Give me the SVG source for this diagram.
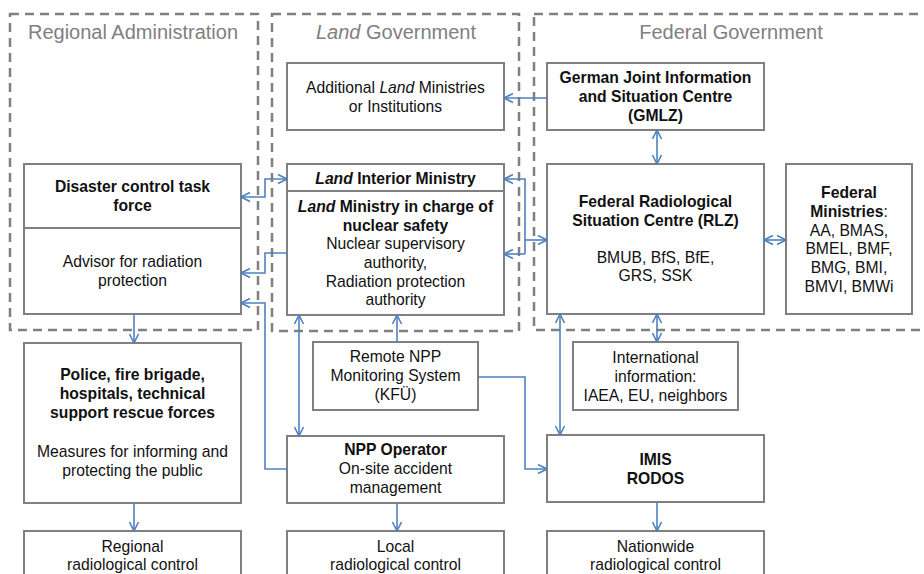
<svg xmlns="http://www.w3.org/2000/svg" width="924" height="574" viewBox="0 0 924 574">
<defs>
<style>
.c{fill:none;stroke:#808080;stroke-width:2.5;stroke-dasharray:9 6}
.ct{font-family:"Liberation Sans",Arial,sans-serif;font-size:20px;fill:#808080;text-anchor:middle}
.b{fill:#fff;stroke:#808080;stroke-width:2}
.d{stroke:#808080;stroke-width:2}
text.t{font-family:"Liberation Sans",Arial,sans-serif;font-size:15.7px;fill:#111;text-anchor:middle}
.bo{font-weight:bold}
.i{font-style:italic}
.n{font-weight:normal}
.k path{fill:none;stroke:#4f81bd;stroke-width:1.6}
</style>
<marker id="a" markerWidth="11" markerHeight="11" refX="10" refY="5.5" orient="auto-start-reverse" markerUnits="userSpaceOnUse" viewBox="0 0 11 11">
<path d="M1,1 L10,5.5 L1,10" fill="none" stroke="#4f81bd" stroke-width="1.6"/>
</marker>
</defs>
<rect width="924" height="574" fill="#fff"/>

<g id="regional-admin">
<rect class="c" x="10" y="14" width="248" height="316"/>
<text class="ct" x="133" y="39">Regional  Administration</text>
</g>
<g id="land-gov">
<rect class="c" x="272" y="14" width="247" height="317"/>
<text class="ct" x="396" y="39"><tspan font-style="italic">Land</tspan> Government</text>
</g>
<g id="federal-gov">
<rect class="c" x="534" y="14" width="410" height="316"/>
<text class="ct" x="731" y="39">Federal  Government</text>
</g>

<g id="additional">
<rect class="b" x="287" y="63" width="217" height="67"/>
<text class="t" x="395.5" y="93">Additional <tspan class="i">Land</tspan> Ministries</text>
<text class="t" x="395.5" y="112">or Institutions</text>
</g>

<g id="land-ministry">
<rect class="b" x="287" y="164" width="217" height="151"/>
<line class="d" x1="287" y1="191" x2="504" y2="191"/>
<text class="t bo" x="395.5" y="184"><tspan class="i">Land</tspan> Interior Ministry</text>
<text class="t bo" x="395.5" y="212"><tspan class="i">Land</tspan> Ministry in charge of</text>
<text class="t bo" x="395.5" y="231">nuclear safety</text>
<text class="t" x="395.5" y="249">Nuclear supervisory</text>
<text class="t" x="395.5" y="268">authority,</text>
<text class="t" x="395.5" y="287">Radiation protection</text>
<text class="t" x="395.5" y="305">authority</text>
</g>

<g id="disaster">
<rect class="b" x="24" y="164" width="217" height="150"/>
<line class="d" x1="24" y1="228" x2="241" y2="228"/>
<text class="t bo" x="132.5" y="192">Disaster control task</text>
<text class="t bo" x="132.5" y="211">force</text>
<text class="t" x="132.5" y="267">Advisor for radiation</text>
<text class="t" x="132.5" y="286">protection</text>
</g>

<g id="gmlz">
<rect class="b" x="547" y="63" width="217" height="67"/>
<text class="t bo" x="655.5" y="83">German Joint Information</text>
<text class="t bo" x="655.5" y="102">and Situation Centre</text>
<text class="t bo" x="655.5" y="121">(GMLZ)</text>
</g>

<g id="rlz">
<rect class="b" x="547" y="164" width="217" height="150"/>
<text class="t bo" x="655.5" y="207">Federal Radiological</text>
<text class="t bo" x="655.5" y="226">Situation Centre (RLZ)</text>
<text class="t" x="655.5" y="263">BMUB, BfS, BfE,</text>
<text class="t" x="655.5" y="281">GRS, SSK</text>
</g>

<g id="fed-ministries">
<rect class="b" x="786" y="164" width="126" height="150"/>
<text class="t bo" x="849" y="198">Federal</text>
<text class="t bo" x="849" y="217">Ministries<tspan class="n">:</tspan></text>
<text class="t" x="849" y="236">AA, BMAS,</text>
<text class="t" x="849" y="254">BMEL, BMF,</text>
<text class="t" x="849" y="273">BMG, BMI,</text>
<text class="t" x="849" y="292">BMVI, BMWi</text>
</g>

<g id="police">
<rect class="b" x="24" y="343" width="217" height="160"/>
<text class="t bo" x="132.5" y="380">Police, fire brigade,</text>
<text class="t bo" x="132.5" y="399">hospitals, technical</text>
<text class="t bo" x="132.5" y="418">support rescue forces</text>
<text class="t" x="132.5" y="457">Measures for informing and</text>
<text class="t" x="132.5" y="476">protecting the public</text>
</g>

<g id="regional-control">
<rect class="b" x="24" y="531" width="217" height="60"/>
<text class="t" x="132.5" y="552">Regional</text>
<text class="t" x="132.5" y="570">radiological control</text>
</g>

<g id="remote-npp">
<rect class="b" x="313" y="342" width="165" height="68"/>
<text class="t" x="395.5" y="362">Remote NPP</text>
<text class="t" x="395.5" y="381">Monitoring System</text>
<text class="t" x="395.5" y="400">(KFÜ)</text>
</g>

<g id="npp-operator">
<rect class="b" x="287" y="436" width="217" height="67"/>
<text class="t bo" x="395.5" y="455">NPP Operator</text>
<text class="t" x="395.5" y="474">On-site accident</text>
<text class="t" x="395.5" y="493">management</text>
</g>

<g id="local-control">
<rect class="b" x="287" y="531" width="217" height="60"/>
<text class="t" x="395.5" y="552">Local</text>
<text class="t" x="395.5" y="570">radiological control</text>
</g>

<g id="international">
<rect class="b" x="573" y="342" width="165" height="68"/>
<text class="t" x="655.5" y="363">International</text>
<text class="t" x="655.5" y="382">information:</text>
<text class="t" x="655.5" y="401">IAEA, EU, neighbors</text>
</g>

<g id="imis">
<rect class="b" x="547" y="435" width="217" height="67"/>
<text class="t bo" x="655.5" y="465">IMIS</text>
<text class="t bo" x="655.5" y="484">RODOS</text>
</g>

<g id="nationwide">
<rect class="b" x="547" y="531" width="217" height="60"/>
<text class="t" x="655.5" y="552">Nationwide</text>
<text class="t" x="655.5" y="570">radiological control</text>
</g>

<g id="connectors" class="k">
<path d="M547,98 H504" marker-end="url(#a)"/>
<path d="M657,130 V164" marker-start="url(#a)" marker-end="url(#a)"/>
<path d="M764,240 H786" marker-start="url(#a)" marker-end="url(#a)"/>
<path d="M657,314 V342" marker-start="url(#a)" marker-end="url(#a)"/>
<path d="M560,314 V435" marker-start="url(#a)" marker-end="url(#a)"/>
<path d="M478,377 H525 V469 H547" marker-end="url(#a)"/>
<path d="M397,342 V315" marker-end="url(#a)"/>
<path d="M299,315 V436" marker-start="url(#a)" marker-end="url(#a)"/>
<path d="M287,469 H265 V303 H241" marker-end="url(#a)"/>
<path d="M287,253 H265 V273 H241" marker-end="url(#a)"/>
<path d="M241,197 H265 V179 H287" marker-start="url(#a)" marker-end="url(#a)"/>
<path d="M525,254 V179 H504" marker-end="url(#a)"/>
<path d="M525,254 H504" marker-end="url(#a)"/>
<path d="M525,240 H547" marker-end="url(#a)"/>
<path d="M134,314 V343" marker-end="url(#a)"/>
<path d="M134,503 V531" marker-end="url(#a)"/>
<path d="M397,503 V531" marker-end="url(#a)"/>
<path d="M657,502 V531" marker-end="url(#a)"/>
</g>
</svg>
